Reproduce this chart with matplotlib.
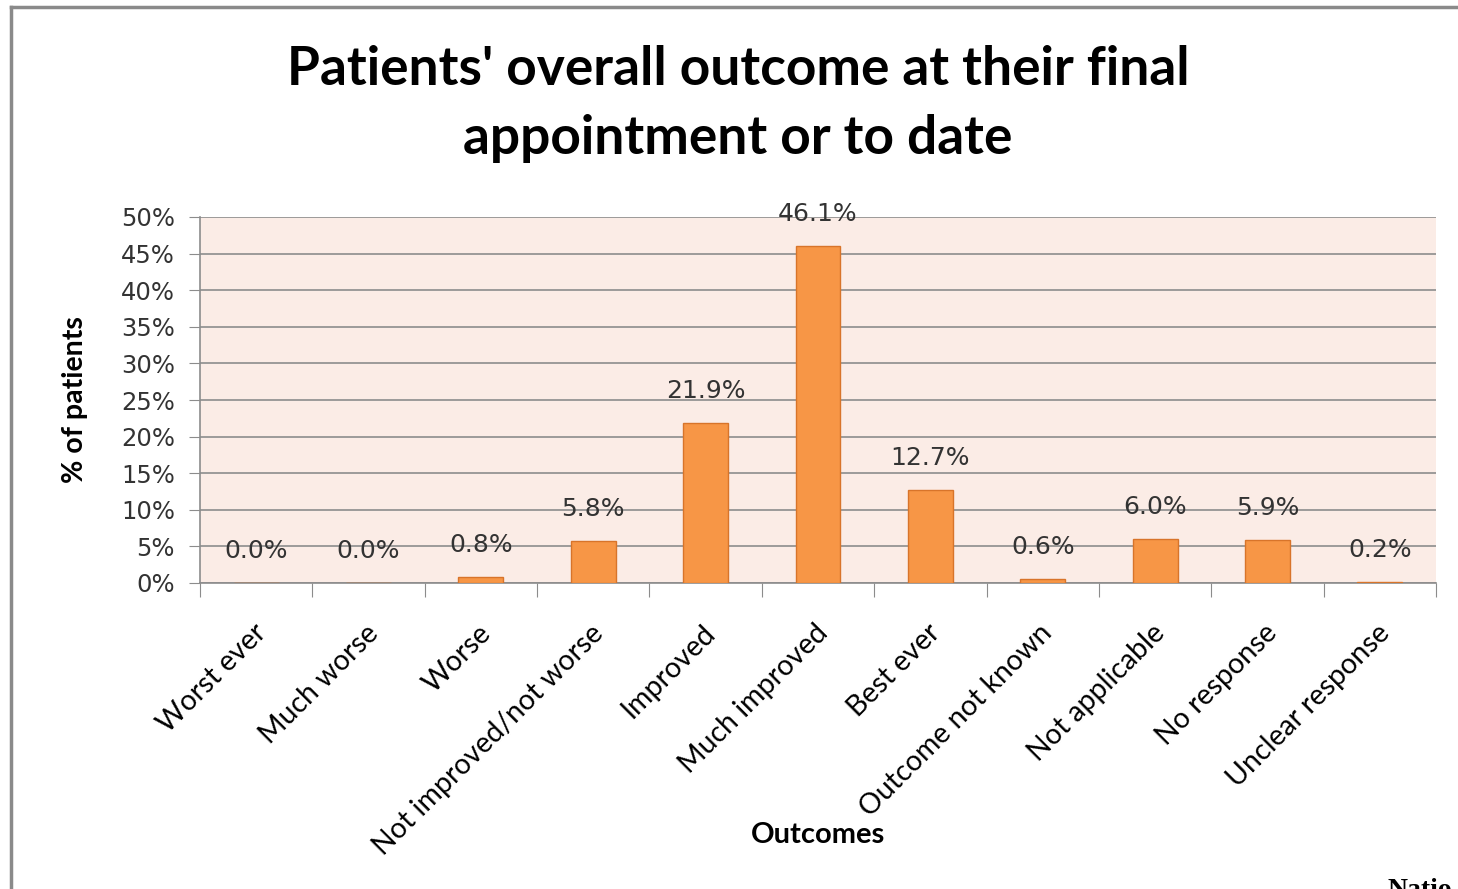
import matplotlib.pyplot as plt
import numpy as np
from matplotlib.lines import Line2D

categories = ['Worst ever', 'Much worse', 'Worse', 'Not improved/not worse',
              'Improved', 'Much improved', 'Best ever', 'Outcome not known',
              'Not applicable', 'No response', 'Unclear response']
values = [0.0, 0.0, 0.8, 5.8, 21.9, 46.1, 12.7, 0.6, 6.0, 5.9, 0.2]
yticks = [0, 5, 10, 15, 20, 25, 30, 35, 40, 45, 50]

fig = plt.figure(figsize=(14.58, 8.89), dpi=100)
ax = fig.add_axes([200/1458, 1-583/889, 1236/1458, 366/889])

# chart frame (cut off on the right and bottom)
fig.add_artist(Line2D([11/1458, 11/1458], [0, 1-7/889], color='#8a8a8a', lw=2.5, transform=fig.transFigure))
fig.add_artist(Line2D([11/1458, 1], [1-7/889, 1-7/889], color='#8a8a8a', lw=2.5, transform=fig.transFigure))

x = np.arange(len(categories))
ax.set_facecolor('#fbece6')
ax.bar(x, values, width=0.4, color='#f79646', edgecolor='#d8742a', linewidth=1, zorder=3)
for xi, v in zip(x, values):
    ax.annotate(f'{v:.1f}%', (xi, v), xytext=(0, 23), textcoords='offset points',
                ha='center', va='center', fontsize=18, color='#333333', zorder=4)

ax.set_xlim(-0.5, len(categories) - 0.5)
ax.set_ylim(0, 50)
ax.set_yticks(yticks)
ax.set_yticklabels([f'{t}%' for t in yticks], fontsize=17.5, color='#333333')
ax.yaxis.grid(True, color='#8c8c8c', lw=1.2, zorder=1)
ax.tick_params(axis='y', length=8, color='#8c8c8c', pad=10)

# category ticks at the boundaries, labels at centres
ax.set_xticks(np.arange(-0.5, len(categories)), minor=False)
ax.set_xticklabels([])
ax.tick_params(axis='x', length=10, color='#8c8c8c')
for xi, lab in zip(x, categories):
    ax.annotate(lab, (xi, 0), xytext=(4, -33), textcoords='offset points',
                rotation=45, ha='right', va='center', rotation_mode='anchor',
                fontsize=20.5, family='Lato', color='black')

for s in ['top', 'right']:
    ax.spines[s].set_visible(False)
for s in ['left', 'bottom']:
    ax.spines[s].set_color('#8c8c8c')
    ax.spines[s].set_linewidth(1.2)

fig.text(738/1458, 1-104/889, "Patients' overall outcome at their final\nappointment or to date",
         ha='center', va='center', fontsize=38.3, fontweight='bold', family='Lato', linespacing=1.5)
fig.text(75/1458, 1-400/889, '% of patients', rotation=90, ha='center', va='center',
         fontsize=20.5, fontweight='bold', family='Lato')
fig.text(818/1458, 1-835/889, 'Outcomes', ha='center', va='center',
         fontsize=21, fontweight='bold', family='Lato')
fig.text(1388/1458, 1-878/889, 'Natio', ha='left', va='top',
         fontsize=20, fontweight='bold', family='Liberation Serif')

fig.savefig('out.png', dpi=100)
